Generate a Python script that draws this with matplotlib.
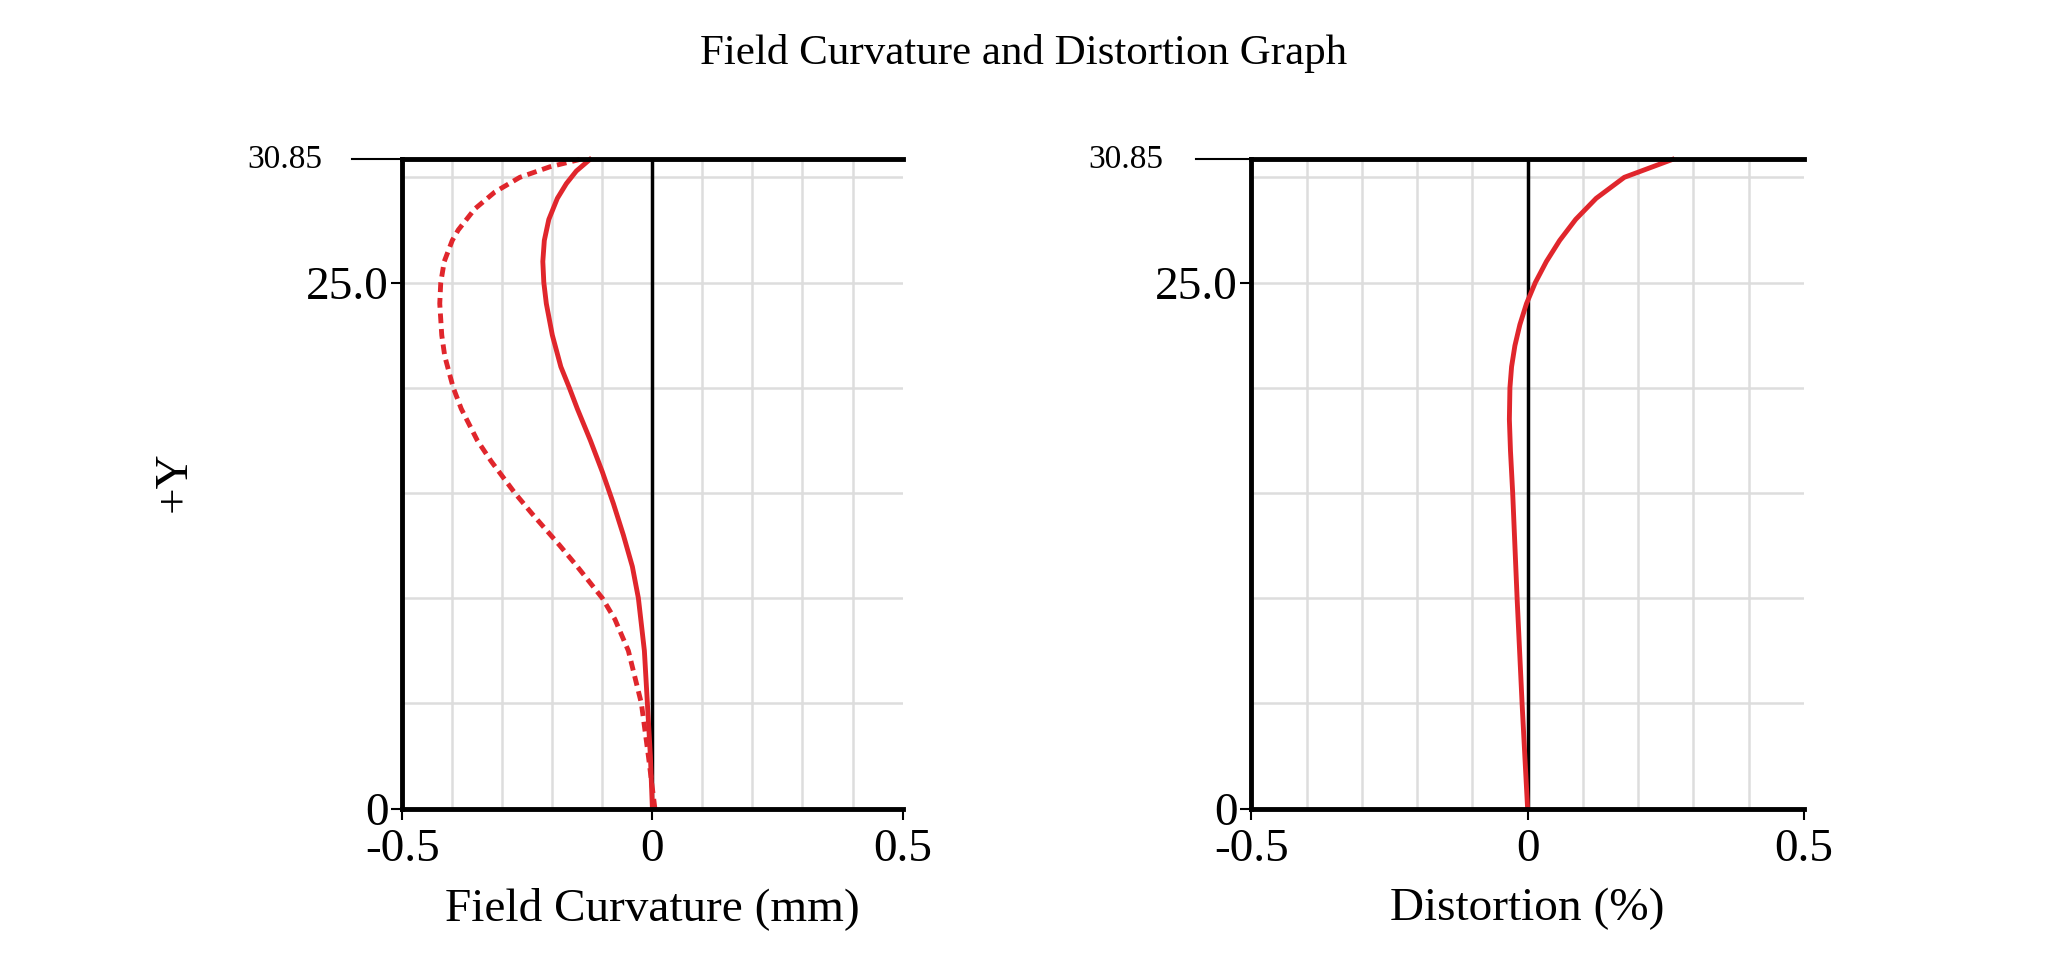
import matplotlib.pyplot as plt
import numpy as np

plt.rcParams['font.family'] = ['Liberation Serif', 'DejaVu Serif']

# field heights (Y) and curves
y_fc_solid = [0, 2.5, 5, 7.5, 10, 11.5, 13, 14.5, 16, 17.5, 19, 20, 21, 22.5, 24, 25, 26, 27, 28, 29, 29.7, 30.3, 30.85]
fc_solid = [0.0, -0.004, -0.01, -0.016, -0.028, -0.04, -0.058, -0.078, -0.1, -0.124, -0.15, -0.166, -0.183, -0.2, -0.212, -0.217, -0.219, -0.216, -0.207, -0.19, -0.172, -0.152, -0.125]
y_fc_dash = [0, 2.5, 5, 7.5, 9, 10, 11.5, 12.5, 14, 15, 16.5, 17.5, 19, 20, 21.5, 22.5, 24, 25, 26, 27, 27.5, 28.5, 29.3, 30, 30.5, 30.85]
fc_dash = [0.005, -0.008, -0.022, -0.048, -0.075, -0.1, -0.15, -0.185, -0.24, -0.275, -0.322, -0.35, -0.382, -0.398, -0.415, -0.421, -0.425, -0.423, -0.416, -0.4, -0.388, -0.355, -0.315, -0.265, -0.205, -0.145]
y_dist = [0, 5, 10, 15, 17, 18.5, 20, 21, 22, 23, 24, 25, 26, 27, 28, 29, 30, 30.85]
dist = [0.0, -0.01, -0.019, -0.027, -0.031, -0.033, -0.032, -0.029, -0.023, -0.014, -0.002, 0.014, 0.034, 0.058, 0.087, 0.124, 0.175, 0.262]

ymax = 30.85
red = '#e0262c'

fig = plt.figure(figsize=(20.48, 9.64), dpi=100)
fig.suptitle('Field Curvature and Distortion Graph', y=0.965, fontsize=31)


def style(ax, xlabel):
    ax.set_xlim(-0.5, 0.5)
    ax.set_ylim(0, ymax)
    for x in np.arange(-0.4, 0.5, 0.1):
        if abs(x) > 1e-9:
            ax.axvline(x, color='#dddddd', lw=1.8, zorder=0)
    for y in [5, 10, 15, 20, 25, 30]:
        ax.axhline(y, color='#dddddd', lw=1.8, zorder=0)
    ax.axvline(0, color='black', lw=2.5, zorder=1)
    for s in ['left', 'top', 'bottom']:
        ax.spines[s].set_linewidth(3.5)
    ax.spines['right'].set_visible(False)
    ax.set_xticks([-0.5, 0, 0.5])
    ax.set_xticklabels(['-0.5', '0', '0.5'], fontsize=34)
    ax.set_yticks([0, 25])
    ax.set_yticklabels(['0', '25.0'], fontsize=34)
    ax.tick_params(axis='y', length=8, width=1.5, pad=2)
    ax.tick_params(axis='x', length=8, width=1.5, pad=6)
    # long tick and label at the top
    ax.plot([-0.6, -0.5], [ymax, ymax], color='black', lw=1.5, clip_on=False)
    ax.text(-0.66, ymax, '30.85', fontsize=24, ha='right', va='center')
    ax.set_xlabel(xlabel, fontsize=34, labelpad=12)


ax1 = fig.add_axes([0.1964, 0.1612, 0.2443, 0.6734])
style(ax1, 'Field Curvature (mm)')
ax1.plot(fc_solid, y_fc_solid, color=red, lw=3.5, clip_on=False)
ax1.plot(fc_dash, y_fc_dash, color=red, lw=3.5, ls=(0, (2, 1.2)), clip_on=False)
fig.text(0.085, 0.50, '+Y', fontsize=34, rotation=90, ha='center', va='center')

ax2 = fig.add_axes([0.611, 0.1612, 0.2698, 0.6734])
style(ax2, 'Distortion (%)')
ax2.plot(dist, y_dist, color=red, lw=3.5, clip_on=False)

fig.savefig('out.png', dpi=100)
